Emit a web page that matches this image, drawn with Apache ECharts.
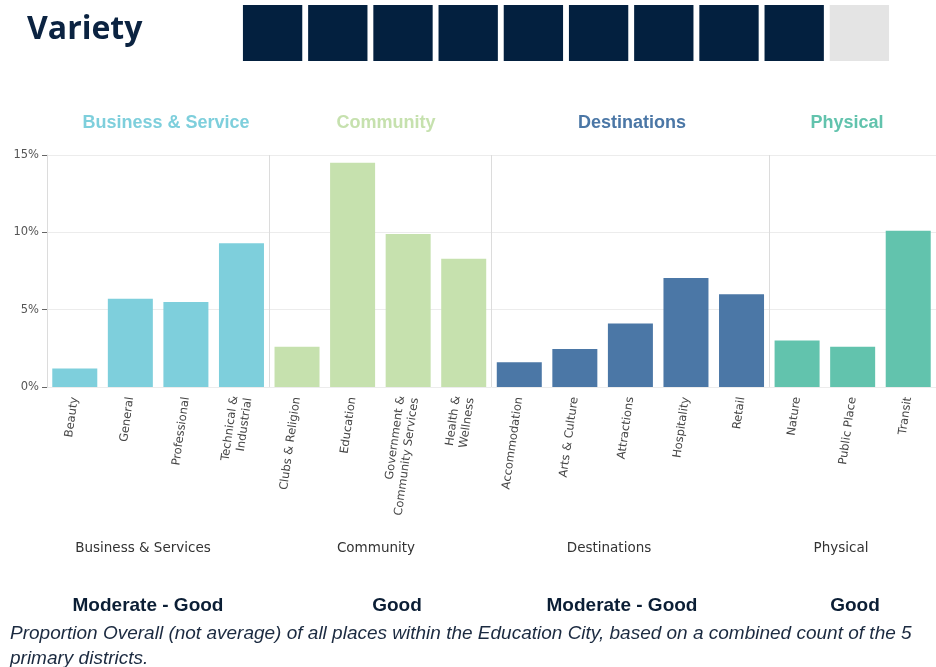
<!DOCTYPE html>
<html>
<head>
<meta charset="utf-8">
<script src="https://cdn.jsdelivr.net/npm/echarts@6/dist/echarts.min.js"></script>
<style>
  html, body { margin: 0; padding: 0; background: #fff; }
  #chart { width: 936px; height: 667px; }
</style>
</head>
<body>
<div id="chart"></div>
<script>
// data (percent of all places)
var groupNames = ['Business & Service', 'Community', 'Destinations', 'Physical'];
var groupAxisNames = ['Business & Services', 'Community', 'Destinations', 'Physical'];
var groupColors = ['#7ecfdc', '#c6e1ae', '#4b77a6', '#62c3ad'];
var ratings = ['Moderate - Good', 'Good', 'Moderate - Good', 'Good'];

var businessLabels = ['Beauty', 'General', 'Professional', 'Technical &\nIndustrial'];
var businessValues = [1.2, 5.7, 5.5, 9.3];
var communityLabels = ['Clubs & Religion', 'Education', 'Government &\nCommunity Services', 'Health &\nWellness'];
var communityValues = [2.6, 14.5, 9.9, 8.3];
var destinationLabels = ['Accommodation', 'Arts & Culture', 'Attractions', 'Hospitality', 'Retail'];
var destinationValues = [1.6, 2.45, 4.1, 7.05, 6.0];
var physicalLabels = ['Nature', 'Public Place', 'Transit'];
var physicalValues = [3.0, 2.6, 10.1];

var yTicks = [0, 5, 10, 15];
var varietyScore = 9;
var varietyMax = 10;

var footnote = 'Proportion Overall (not average) of all places within the Education City, based on a combined count of the 5\nprimary districts.';

// build the flat category axis from the groups
var groupLabels = [businessLabels, communityLabels, destinationLabels, physicalLabels];
var groupValues = [businessValues, communityValues, destinationValues, physicalValues];
var categories = [];
var barData = [];
var groupStarts = [];
groupLabels.forEach(function (labels, g) {
    groupStarts.push(categories.length);
    labels.forEach(function (name, i) {
        categories.push(name);
        barData.push({ value: groupValues[g][i], itemStyle: { color: groupColors[g] } });
    });
});

var scoreCats = [];
var scoreData = [];
for (var i = 0; i < varietyMax; i++) {
    scoreCats.push(String(i + 1));
    scoreData.push({ value: 1, itemStyle: { color: i < varietyScore ? '#03203f' : '#e4e4e4' } });
}

var chartFont = 'DejaVu Sans';
var headerX = [166, 386, 632, 847];
var axisNameX = [143, 376, 609, 841];
var ratingX = [148, 397, 622, 855];

var graphics = [
    { type: 'text', left: 27, top: 14, style: { text: 'Variety', fontSize: 32, fontWeight: 'bold', fontFamily: 'Open Sans', fill: '#0b2341' } },
    { type: 'text', left: 10, top: 621, style: { text: footnote, fontSize: 19, fontStyle: 'italic', fontFamily: 'Liberation Sans', fill: '#1b2a40', lineHeight: 25 } }
];
groupNames.forEach(function (name, g) {
    graphics.push({ type: 'text', x: headerX[g], y: 123, style: { text: name, fontSize: 18, fontWeight: 'bold', fontFamily: 'Liberation Sans', fill: groupColors[g], align: 'center', verticalAlign: 'middle' } });
    graphics.push({ type: 'text', x: axisNameX[g], y: 548, style: { text: groupAxisNames[g], fontSize: 13.5, fontFamily: chartFont, fill: '#333', align: 'center', verticalAlign: 'middle' } });
    graphics.push({ type: 'text', x: ratingX[g], y: 606, style: { text: ratings[g], fontSize: 19, fontWeight: 'bold', fontFamily: 'Liberation Sans', fill: '#0b1e35', align: 'center', verticalAlign: 'middle' } });
});

var myChart = echarts.init(document.getElementById('chart'));
var option = {
    animation: false,
    grid: [
        { left: 47, top: 155, width: 893, height: 232 },
        { left: 240, top: 5, width: 652, height: 56 }
    ],
    xAxis: [
        {
            gridIndex: 0,
            type: 'category',
            data: categories,
            axisLine: { show: false },
            axisTick: { show: false },
            splitLine: {
                show: true,
                interval: function (idx) { return groupStarts.indexOf(idx) > 0; },
                lineStyle: { color: '#dcdcdc', width: 1 }
            },
            axisLabel: {
                rotate: 82,
                interval: 0,
                margin: 10,
                fontSize: 11.5,
                fontFamily: chartFont,
                color: '#444',
                lineHeight: 14
            }
        },
        { gridIndex: 1, type: 'category', data: scoreCats, show: false }
    ],
    yAxis: [
        {
            gridIndex: 0,
            type: 'value',
            min: yTicks[0],
            max: yTicks[yTicks.length - 1],
            interval: yTicks[1] - yTicks[0],
            axisLine: { show: true, lineStyle: { color: '#dcdcdc' } },
            axisTick: { show: true, length: 5, lineStyle: { color: '#666' } },
            splitLine: { show: true, lineStyle: { color: '#ececec' } },
            axisLabel: {
                formatter: '{value}%',
                fontSize: 11.5,
                fontFamily: chartFont,
                color: '#555',
                margin: 8
            }
        },
        { gridIndex: 1, type: 'value', min: 0, max: 1, show: false }
    ],
    series: [
        {
            type: 'bar',
            xAxisIndex: 0,
            yAxisIndex: 0,
            data: barData,
            barCategoryGap: '19%'
        },
        {
            type: 'bar',
            xAxisIndex: 1,
            yAxisIndex: 1,
            data: scoreData,
            barCategoryGap: '9%'
        }
    ],
    graphic: graphics
};
myChart.setOption(option);
</script>
</body>
</html>
